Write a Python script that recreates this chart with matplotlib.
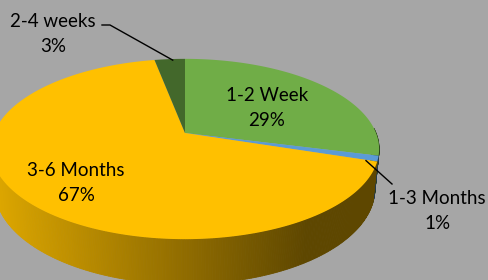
import numpy as np
import matplotlib.pyplot as plt
from matplotlib.patches import Polygon

# slice data, clockwise from 12 o'clock
labels = ['1-2 Week', '1-3 Months', '3-6 Months', '2-4 weeks']
values = [29, 1, 67, 3]
colors = ['#70AD47', '#5B9BD5', '#FFC000', '#43682B']

BG = '#A6A6A6'

# 3d view set-up (pixel units)
cx, cy = 185, 133          # where the pie centre lands
elev = np.radians(27.2)
dist = 5.01
focal = 957
thick = 0.237


def project(X, Y, Z):
    s, c = np.sin(elev), np.cos(elev)
    v = Z * s + Y * c
    w = -Z * c + Y * s
    k = focal / (dist - w)
    return cx + X * k, cy - v * k


def rim(theta, y=0.0):
    return project(np.sin(theta), y, np.cos(theta))


fig = plt.figure(figsize=(4.89, 2.80), dpi=100)
fig.patch.set_facecolor(BG)
ax = fig.add_axes([0, 0, 1, 1])
ax.set_xlim(0, 489)
ax.set_ylim(280, 0)
ax.axis('off')

fracs = np.array(values) / sum(values)
edges = np.concatenate([[0], np.cumsum(fracs)]) * 2 * np.pi

# side wall, painted far to near with a left-to-right darkening
quads = []
for i in range(len(values)):
    t = np.linspace(edges[i], edges[i + 1], max(4, int(values[i] * 6)))
    for a, b in zip(t[:-1], t[1:]):
        m = 0.5 * (a + b)
        if np.cos(m) > 0.05:
            continue
        quads.append((np.cos(m), a, b, colors[i]))
quads.sort(key=lambda q: -q[0])
for _, a, b, col in quads:
    x1, y1 = rim(a)
    x2, y2 = rim(b)
    x3, y3 = rim(b, -thick)
    x4, y4 = rim(a, -thick)
    xm = 0.5 * (x1 + x2)
    shade = np.clip(0.86 - xm * 0.0016, 0.37, 1)
    rgb = np.array(plt.matplotlib.colors.to_rgb(col)) * shade
    ax.add_patch(Polygon([(x1, y1), (x2, y2), (x3, y3), (x4, y4)],
                         closed=True, fc=rgb, ec=rgb, lw=0.6, zorder=2))

# top face
for i in range(len(values)):
    t = np.linspace(edges[i], edges[i + 1], 200)
    xs, ys = rim(t)
    pts = [(cx, cy)] + list(zip(xs, ys))
    ax.add_patch(Polygon(pts, closed=True, fc=colors[i], ec='none', zorder=3))

font = dict(family=['Lato', 'DejaVu Sans'], fontsize=13.5, color='black',
            ha='center', va='center', linespacing=1.6, zorder=5)

ax.text(267, 108, f'{labels[0]}\n{values[0]}%', **font)
ax.text(76, 183, f'{labels[2]}\n{values[2]}%', **font)
ax.text(53, 34, f'{labels[3]}\n{values[3]}%', **font)
ax.text(437, 211, f'{labels[1]}\n{values[1]}%', **font)

# leader lines
m3 = 0.5 * (edges[3] + edges[4])
lx, ly = rim(m3)
ax.plot([102, 110, lx + 3, ], [25, 25, ly + 1], color='black', lw=1, zorder=6)
m1 = 0.5 * (edges[1] + edges[2])
bx, by = rim(m1)
ax.plot([bx - 12, 392], [by + 2, 184], color='black', lw=1, zorder=6)

fig.savefig('out.png', dpi=100, facecolor=BG)
